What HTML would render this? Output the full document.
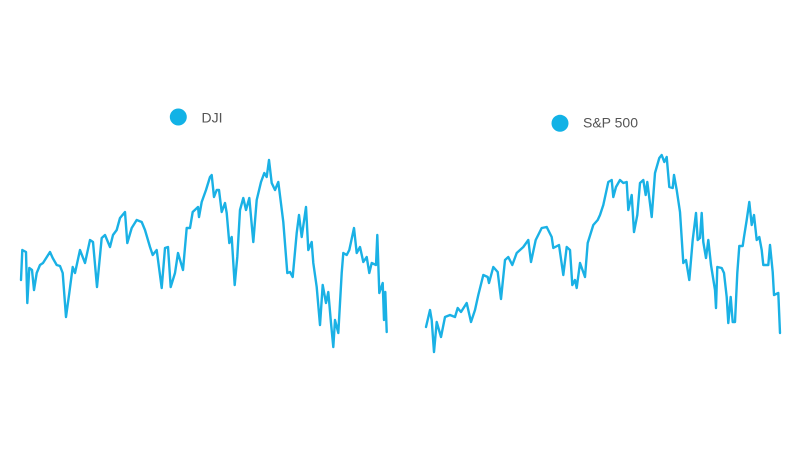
<!DOCTYPE html>
<html>
<head>
<meta charset="utf-8">
<style>
  html, body { margin:0; padding:0; background:#fff; }
  body { width:800px; height:450px; overflow:hidden; }
  svg { display:block; }
  text { font-family: "Liberation Sans", sans-serif; font-size:14px; fill:#555; }
</style>
</head>
<body>
<svg width="800" height="450" viewBox="0 0 800 450" xmlns="http://www.w3.org/2000/svg">
  <rect width="800" height="450" fill="#fff"/>
  <circle cx="178.3" cy="117" r="8.5" fill="#12b2e6"/>
  <text x="201.5" y="122.7">DJI</text>
  <circle cx="560" cy="123.3" r="8.5" fill="#12b2e6"/>
  <text x="583" y="127.7">S&amp;P 500</text>

  <polyline fill="none" stroke="#1ab1e5" stroke-width="2.4" stroke-linejoin="round" stroke-linecap="round"
    points="21,280 22.3,250 26,252 27.3,303 29.3,268 32,270 34,290 36.7,273 40,265 43,263 50,252 52.7,258 56.7,265 60,266 62.7,273 66,317 69.3,293 72.7,267 75,273 80,250 85,263 90,240 93,242 97,287 101.7,238 105,235 110,247 113,235 116.7,230 120,218 125,212 127.3,243 131.7,228 136.7,220 141.7,222 145,230 150,247 152.7,255 156.7,250 161.7,288 165,248 168,247 170.7,287 175,273 178,253 183,270 186.7,228 190,228 192.7,212 198,207 199,217 201.7,202 206,190 210,177 211.7,175 214,197 216.7,190 219,190 221.7,212 225,203 226.7,213 229.3,243 231.7,237 234.7,285 237.3,257 240,210 243.3,198 246,210 249.3,198 253.3,242 256.7,200 261,182 264.3,173 266.7,177 269,160 271.7,183 275,190 278.3,182 283.3,222 287.3,273 290,272 292.7,277 296.7,233 299,215 301.7,237 306,207 308.3,250 311.7,242 313.3,263 316.7,287 320,325 322.7,285 326,303 328.3,292 331,323 333.3,347 335,320 338.3,333 341.7,273 343.3,253 346.7,255 349.3,250 354,228 356.7,253 360,247 363.3,262 366.7,257 369.3,273 371.7,263 376,265 377.3,235 379.3,293 382.7,283 384,320 385.3,292 386.7,332"/>

  <polyline fill="none" stroke="#1ab1e5" stroke-width="2.4" stroke-linejoin="round" stroke-linecap="round"
    points="426,327 430,310 431.7,320 434,352 436.7,322 441,337 445,317 450,315 455,317 457.7,308 461,312 466.7,303 471,322 475,310 478.3,295 483.3,275 487.7,277 489,283 493.3,267 497.7,272 501,299 505,260 508.3,257 512.3,265 516.7,253 523.3,247 528.3,240 531,262 535.7,240 541.7,228 546.7,227 551.7,237 553.3,248 559,245 563.3,275 566.7,247 570,250 572.3,285 575,280 576.7,288 580,263 585,277 587.7,243 593.3,225 597.7,220 600,215 603.3,205 608.3,182 611.7,180 613.3,197 616,187 620,180 623.3,183 626.7,182 628.3,210 631.7,195 634,232 637.3,215 640,183 643.3,180 645.7,195 647.3,182 651.7,217 655,173 659.3,158 661.7,155 664.3,162 666.7,157 669.3,187 672.7,188 674,175 676.7,190 680,212 683.3,263 686,260 689.3,280 692.7,240 696,213 697.7,240 700,238 701.7,213 703.3,242 706,258 708.3,240 711,265 715,290 716,308 717.3,267 721.7,268 724,273 726.7,297 728.3,323 730.7,297 732.7,322 735,322 737.3,273 739.3,246 742.7,246 744,237 746.7,220 749.3,202 751.7,225 754,215 756.7,240 759.3,237 761.7,250 763.3,265 768.3,265 770,245 772.7,272 774,295 778.3,293 780,333"/>
</svg>
</body>
</html>
